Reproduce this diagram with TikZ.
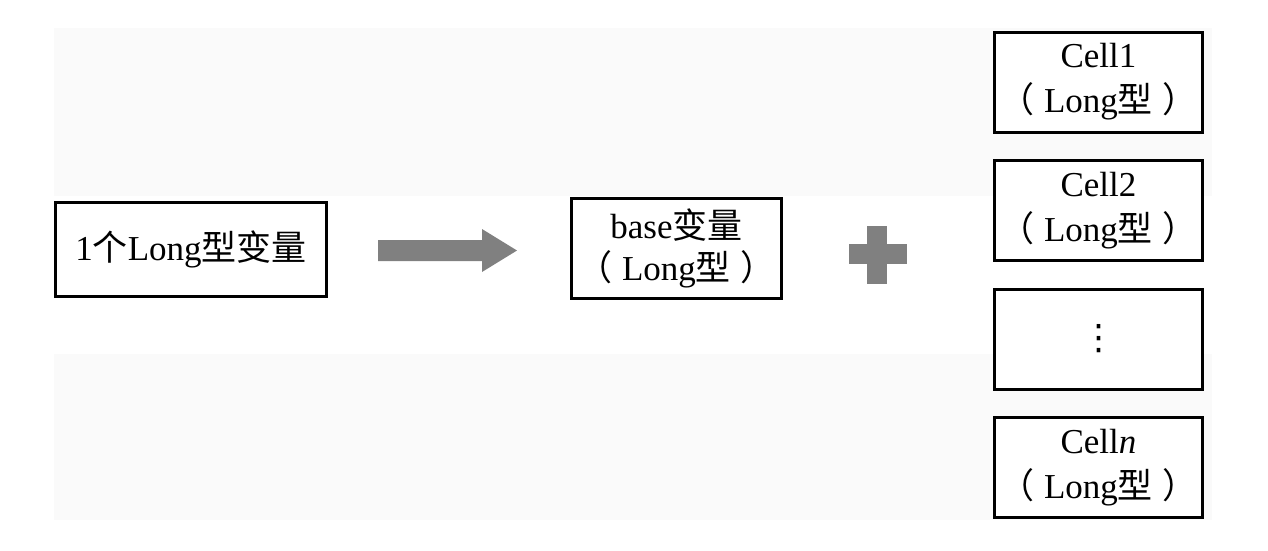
\documentclass[tikz,border=0pt]{standalone}
\usepackage{fontspec}
\setmainfont{Liberation Serif}
\newfontfamily\cjk{Noto Sans CJK SC}
\newfontfamily\dejavu{DejaVu Sans}
\definecolor{shapegray}{HTML}{808080}
\newcommand{\longtype}{{\cjk （}\kern10pt Long{\cjk 型}\kern10pt{\cjk ）}}
\begin{document}
\begin{tikzpicture}[x=1pt,y=-1pt,
  box/.style={draw=black, line width=3pt, fill=white, inner sep=0pt, align=center,
              font=\fontsize{35}{45}\selectfont},
  cellbox/.style={box, minimum width=208pt, minimum height=100pt},
  bgband/.style={fill=gray!4},
  symbol/.style={fill=shapegray}]
\useasboundingbox (0,0) rectangle (1268,550);
\fill[bgband] (54,28) rectangle (1212,196);
\fill[bgband] (54,354) rectangle (1212,520);

\node[box, minimum width=271pt, minimum height=94pt] (var) at (191,249.5)
  {1{\cjk 个}Long{\cjk 型变量}};
\node[box, minimum width=210pt, minimum height=100pt,
      font=\fontsize{35}{42}\selectfont] (base) at (676.5,248.5)
  {base{\cjk 变量}\\\longtype};

\node[cellbox] (c1) at (1098.5,82) {Cell1\\\longtype};
\node[cellbox] (c2) at (1098.5,210.5) {Cell2\\\longtype};
\node[cellbox, font=\dejavu\fontsize{35}{35}\selectfont] (cd) at (1098.5,339) {⋮};
\node[cellbox] (cn) at (1098.5,467.5) {Cell\textit{n}\\\longtype};

% big arrow
\fill[symbol] (378,240) -- (482,240) -- (482,229) -- (517,250.5)
  -- (482,272) -- (482,261) -- (378,261) -- cycle;
% plus sign
\fill[symbol] (849,244) rectangle (907,264);
\fill[symbol] (867,226) rectangle (887,284);
\end{tikzpicture}
\end{document}
